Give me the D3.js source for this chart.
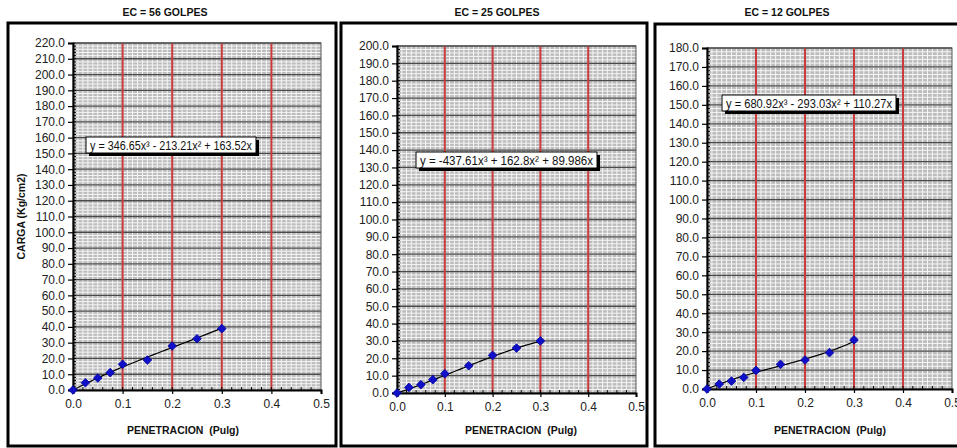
<!DOCTYPE html>
<html>
<head>
<meta charset="utf-8">
<script src="https://cdn.jsdelivr.net/npm/d3@7"></script>
<style>
  html, body { margin: 0; padding: 0; background: #fff; }
  svg { display: block; font-family: "Liberation Sans", Arial, sans-serif; }
</style>
</head>
<body>
<svg id="chart" width="957" height="448"></svg>
<script>
// Penetration readings (inches) shared by the three compaction tests
const penetracion = [0, 0.025, 0.05, 0.075, 0.1, 0.15, 0.2, 0.25, 0.3];

// Load readings (Kg/cm2) for each number of blows
const carga56 = [0, 4.6, 7.6, 11.0, 16.3, 19.0, 27.9, 32.5, 38.9];
const carga25 = [0, 3.2, 4.8, 7.7, 11.1, 15.7, 21.7, 25.9, 30.0];
const carga12 = [0, 2.6, 4.2, 6.1, 9.8, 13.0, 15.3, 19.2, 25.9];

// Panel titles and trend-line equations (cubic, through origin)
const titulos = ["EC = 56 GOLPES", "EC = 25 GOLPES", "EC = 12 GOLPES"];
const coef56 = [346.65, -213.21, 163.52];
const coef25 = [-437.61, 162.8, 89.986];
const coef12 = [680.92, -293.03, 110.27];
const ecuaciones = [
  "y = 346.65x\u00B3 - 213.21x\u00B2 + 163.52x",
  "y = -437.61x\u00B3 + 162.8x\u00B2 + 89.986x",
  "y = 680.92x\u00B3 - 293.03x\u00B2 + 110.27x"
];

// Axis ranges and tick values
const yMaximos = [220, 200, 180];
const xTicks = [0, 0.1, 0.2, 0.3, 0.4, 0.5];
const ejeX = "PENETRACION  (Pulg)";
const ejeY = "CARGA (Kg/cm2)";

const series = [carga56, carga25, carga12];
const coeficientes = [coef56, coef25, coef12];

// Geometry of each panel: frame, plot area, label box, axis title placement
const layout = [
  { frame: [8, 23, 336, 446], plot: [73, 43, 321, 390], titleX: 165, xTitleX: 183, eq: [86, 137, 162], yTitle: true },
  { frame: [341, 23, 647, 446], plot: [397, 46, 636, 393], titleX: 497, xTitleX: 521, eq: [416, 152, 173], yTitle: false },
  { frame: [655, 24, 975, 446], plot: [707, 48, 952, 389], titleX: 787, xTitleX: 830, eq: [722, 95, 166], yTitle: false }
];

const svg = d3.select("#chart");

layout.forEach((L, i) => {
  const [fx0, fy0, fx1, fy1] = L.frame;
  const [px0, py0, px1, py1] = L.plot;
  const g = svg.append("g");

  // Panel title above the frame
  g.append("text")
    .attr("x", L.titleX).attr("y", 16)
    .attr("text-anchor", "middle")
    .attr("font-size", 10.5).attr("font-weight", "bold")
    .attr("fill", "#111")
    .text(titulos[i]);

  // Chart frame
  g.append("rect")
    .attr("x", fx0).attr("y", fy0)
    .attr("width", fx1 - fx0).attr("height", fy1 - fy0)
    .attr("fill", "#fff").attr("stroke", "#000").attr("stroke-width", 3);

  const x = d3.scaleLinear().domain([0, 0.5]).range([px0, px1]);
  const y = d3.scaleLinear().domain([0, yMaximos[i]]).range([py1, py0]);

  // Plot background
  g.append("rect")
    .attr("x", px0).attr("y", py0)
    .attr("width", px1 - px0).attr("height", py1 - py0)
    .attr("fill", "#bcbcbc");

  // Fine white grid
  const minorX = d3.range(1, 50).map(k => k * 0.01);
  const minorY = d3.range(1, yMaximos[i] / 2).map(k => k * 2);
  g.append("g").selectAll("line").data(minorX).join("line")
    .attr("x1", d => x(d)).attr("x2", d => x(d))
    .attr("y1", py0).attr("y2", py1)
    .attr("stroke", "#f6f6f6").attr("stroke-width", 1);
  g.append("g").selectAll("line").data(minorY).join("line")
    .attr("y1", d => y(d)).attr("y2", d => y(d))
    .attr("x1", px0).attr("x2", px1)
    .attr("stroke", "#f6f6f6").attr("stroke-width", 1);

  // Major horizontal gridlines every 10
  const majorY = d3.range(10, yMaximos[i] + 1, 10);
  g.append("g").selectAll("line").data(majorY).join("line")
    .attr("y1", d => y(d)).attr("y2", d => y(d))
    .attr("x1", px0).attr("x2", px1)
    .attr("stroke", "#4a4a4a").attr("stroke-width", 1.3);

  // Red vertical gridlines every 0.1
  g.append("g").selectAll("line").data(xTicks.slice(1, -1)).join("line")
    .attr("x1", d => x(d)).attr("x2", d => x(d))
    .attr("y1", py0).attr("y2", py1)
    .attr("stroke", "#cc3b3b").attr("stroke-width", 2);

  // Plot area outline
  g.append("rect")
    .attr("x", px0).attr("y", py0)
    .attr("width", px1 - px0).attr("height", py1 - py0)
    .attr("fill", "none").attr("stroke", "#5a5a5a").attr("stroke-width", 1);

  // Minor inside ticks
  g.append("g").selectAll("line").data(minorY).join("line")
    .attr("x1", px0).attr("x2", px0 + 3)
    .attr("y1", d => y(d)).attr("y2", d => y(d))
    .attr("stroke", "#000").attr("stroke-width", 1);
  g.append("g").selectAll("line").data(d3.range(1, 25).map(k => k * 0.02)).join("line")
    .attr("y1", py1).attr("y2", py1 - 3)
    .attr("x1", d => x(d)).attr("x2", d => x(d))
    .attr("stroke", "#000").attr("stroke-width", 1);

  // Axes
  const yAxis = d3.axisLeft(y).tickValues(d3.range(0, yMaximos[i] + 1, 10))
    .tickFormat(d3.format(".1f")).tickSizeOuter(0).tickSize(5).tickPadding(3);
  const xAxis = d3.axisBottom(x).tickValues(xTicks)
    .tickFormat(d3.format(".1f")).tickSizeOuter(0).tickSize(4).tickPadding(5);

  const ya = g.append("g").attr("transform", `translate(${px0},0)`).call(yAxis);
  const xa = g.append("g").attr("transform", `translate(0,${py1})`).call(xAxis);
  [ya, xa].forEach(a => {
    a.select(".domain").attr("stroke", "#000").attr("stroke-width", 2);
    a.selectAll(".tick line").attr("stroke", "#000").attr("stroke-width", 1.2);
    a.selectAll(".tick text").attr("font-size", 12).attr("fill", "#222")
      .attr("font-family", "'Liberation Sans', Arial, sans-serif");
  });

  // Axis titles
  g.append("text")
    .attr("x", L.xTitleX).attr("y", 434)
    .attr("text-anchor", "middle")
    .attr("font-size", 10.5).attr("font-weight", "bold").attr("fill", "#111")
    .attr("xml:space", "preserve")
    .text(ejeX);
  if (L.yTitle) {
    g.append("text")
      .attr("transform", `translate(25,${(py0 + py1) / 2}) rotate(-90)`)
      .attr("text-anchor", "middle")
      .attr("font-size", 10.5).attr("font-weight", "bold").attr("fill", "#111")
      .text(ejeY);
  }

  // Trend line from the fitted cubic
  const [a3, a2, a1] = coeficientes[i];
  const f = t => a3 * t * t * t + a2 * t * t + a1 * t;
  const trendX = d3.range(0, 61).map(k => k * 0.005);
  g.append("path")
    .datum(trendX)
    .attr("d", d3.line().x(d => x(d)).y(d => y(f(d))))
    .attr("fill", "none").attr("stroke", "#000").attr("stroke-width", 1.2);

  // Measured points
  const pts = penetracion.map((p, k) => [p, series[i][k]]);
  g.append("g").selectAll("path").data(pts).join("path")
    .attr("transform", d => `translate(${x(d[0])},${y(d[1])})`)
    .attr("d", d3.symbol(d3.symbolDiamond2, 48)())
    .attr("fill", "#1010c8").attr("stroke", "#0000a0").attr("stroke-width", 0.8);

  // Equation label with shadow
  const [ex, ey, ew] = L.eq;
  const bh = 16;
  const lab = g.append("g");
  lab.append("rect")
    .attr("x", ex + 3).attr("y", ey + 3)
    .attr("width", ew + 8).attr("height", bh).attr("fill", "#000");
  lab.append("rect")
    .attr("x", ex).attr("y", ey)
    .attr("width", ew + 8).attr("height", bh)
    .attr("fill", "#fff").attr("stroke", "#000").attr("stroke-width", 1);
  lab.append("text")
    .attr("x", ex + 4).attr("y", ey + 12.5)
    .attr("font-size", 12).attr("fill", "#111")
    .attr("textLength", ew).attr("lengthAdjust", "spacingAndGlyphs")
    .text(ecuaciones[i]);
});
</script>
</body>
</html>
